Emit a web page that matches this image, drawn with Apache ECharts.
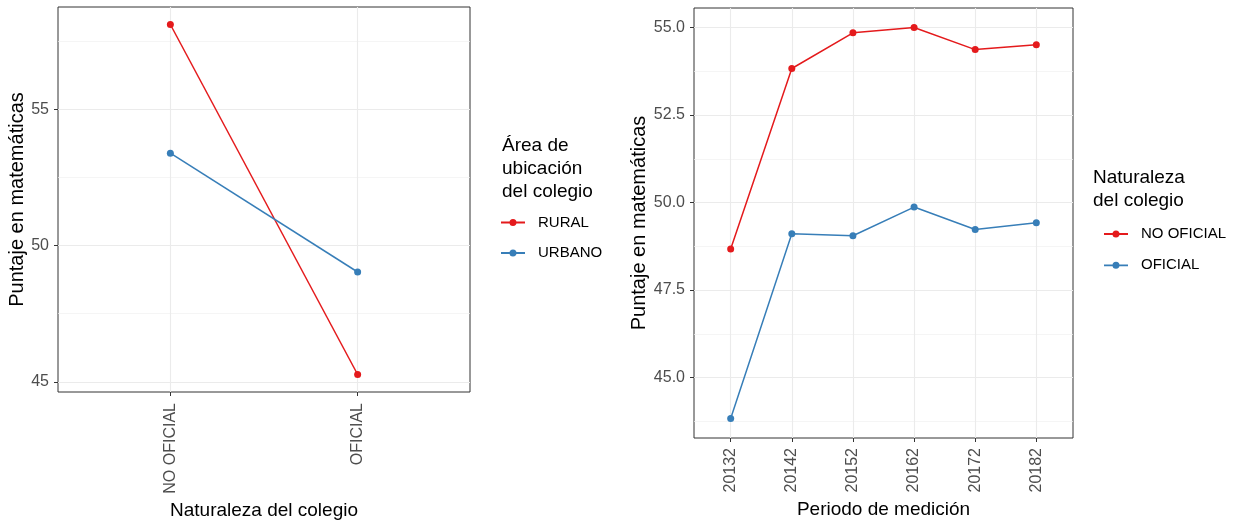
<!DOCTYPE html>
<html>
<head>
<meta charset="utf-8">
<script src="https://cdn.jsdelivr.net/npm/echarts@6/dist/echarts.min.js"></script>
<style>
html,body{margin:0;padding:0;background:#fff;}
#c{width:1242px;height:520px;}
</style>
</head>
<body>
<div id="c"></div>
<script>
// ---- data ----
const naturaleza = ['NO OFICIAL', 'OFICIAL'];
const rural = [58.11, 45.27];
const urbano = [53.39, 49.03];
const leftYTicks = [45, 50, 55];
const leftYMinor = [47.5, 52.5, 57.5];

const periodos = ['20132', '20142', '20152', '20162', '20172', '20182'];
const noOficial = [48.67, 53.83, 54.85, 55.00, 54.37, 54.51];
const oficial = [43.83, 49.11, 49.05, 49.87, 49.23, 49.42];
const rightYTicks = [45.0, 47.5, 50.0, 52.5, 55.0];
const rightYMinor = [43.75, 46.25, 48.75, 51.25, 53.75];

const RED = '#E41A1C', BLUE = '#377EB8';
const FONT = '"Liberation Sans", Arial, sans-serif';

function ext(arrs) {
  const all = [].concat(...arrs);
  const lo = Math.min(...all), hi = Math.max(...all);
  const pad = (hi - lo) * 0.05;
  return [lo - pad, hi + pad];
}
const leftExt = ext([rural, urbano]);
const rightExt = ext([noOficial, oficial]);

const idx = a => a.map((_, i) => i + 1);
const pts = a => a.map((v, i) => [i + 1, v]);

const gridLine = { show: true, lineStyle: { color: '#EBEBEB', width: 1.1 } };
const minorLine = { show: true, lineStyle: { color: '#F0F0F0', width: 0.7 } };
const tick = { show: true, length: 4, lineStyle: { color: '#333333', width: 1 } };
const tickLabel = { color: '#4D4D4D', fontSize: 16, fontFamily: FONT };

function xAxisCfg(gi, cats, min, max, nameGap, name, margin) {
  return {
    type: 'value', gridIndex: gi, min: min, max: max, position: 'bottom',
    name: name, nameLocation: 'middle', nameGap: nameGap,
    nameTextStyle: { color: '#000', fontSize: 19, fontFamily: FONT },
    axisLine: { show: false },
    axisTick: Object.assign({ customValues: idx(cats) }, tick),
    axisLabel: Object.assign({ customValues: idx(cats), rotate: 90, margin: margin,
      formatter: v => cats[Math.round(v) - 1] || '' }, tickLabel),
    splitLine: gridLine
  };
}
function yAxisCfg(gi, e, ticks, fmt, nameGap) {
  return {
    type: 'value', gridIndex: gi, min: e[0], max: e[1], position: 'left',
    name: 'Puntaje en matemáticas', nameLocation: 'middle', nameGap: nameGap,
    nameTextStyle: { color: '#000', fontSize: 20, fontFamily: FONT },
    axisLine: { show: false },
    axisTick: Object.assign({ customValues: ticks }, tick),
    axisLabel: Object.assign({ customValues: ticks, margin: 9, formatter: fmt }, tickLabel),
    splitLine: gridLine
  };
}
function minorAxis(gi, e, vals) {
  return {
    type: 'value', gridIndex: gi, min: e[0], max: e[1], position: 'left',
    axisLine: { show: false }, axisLabel: { show: false },
    axisTick: { show: false, customValues: vals },
    splitLine: minorLine
  };
}
function lineSeries(name, data, color, xi, yi) {
  return {
    type: 'line', name: name, data: data, xAxisIndex: xi, yAxisIndex: yi,
    symbol: 'circle', symbolSize: 7, showSymbol: true,
    lineStyle: { color: color, width: 1.5 }, itemStyle: { color: color },
    emphasis: { disabled: true }, animation: false, z: 5
  };
}

const KEY = 'path://M0,2.6 L24,2.6 L24,4.4 L0,4.4 Z M12,0 A3.5,3.5 0 1 1 11.99,0 Z';

const chart = echarts.init(document.getElementById('c'), null, { renderer: 'canvas' });
chart.setOption({
  backgroundColor: '#fff',
  animation: false,
  textStyle: { fontFamily: FONT },
  grid: [
    { left: 58, top: 7, width: 412, height: 385, show: true, borderColor: '#333333', borderWidth: 1, backgroundColor: '#fff', outerBoundsMode: 'none' },
    { left: 694, top: 8, width: 379, height: 430, show: true, borderColor: '#333333', borderWidth: 1, backgroundColor: '#fff', outerBoundsMode: 'none' }
  ],
  xAxis: [
    xAxisCfg(0, naturaleza, 0.4, naturaleza.length + 0.6, 106, 'Naturaleza del colegio', 11),
    xAxisCfg(1, periodos, 0.4, periodos.length + 0.6, 62, 'Periodo de medición', 10)
  ],
  yAxis: [
    minorAxis(0, leftExt, leftYMinor),
    yAxisCfg(0, leftExt, leftYTicks, v => String(Math.round(v)), 31),
    minorAxis(1, rightExt, rightYMinor),
    yAxisCfg(1, rightExt, rightYTicks, v => v.toFixed(1), 45)
  ],
  title: [
    { text: 'Área de\nubicación\ndel colegio', left: 497, top: 129, padding: 5,
      textStyle: { fontSize: 19, fontWeight: 'normal', color: '#000', fontFamily: FONT, lineHeight: 23 } },
    { text: 'Naturaleza\ndel colegio', left: 1088, top: 161, padding: 5,
      textStyle: { fontSize: 19, fontWeight: 'normal', color: '#000', fontFamily: FONT, lineHeight: 23 } }
  ],
  legend: [
    { data: [{ name: 'RURAL', icon: KEY }, { name: 'URBANO', icon: KEY }],
      orient: 'vertical', left: 496, top: 210, padding: 5,
      itemWidth: 24, itemHeight: 7, itemGap: 15.5,
      textStyle: { fontSize: 15, color: '#000', fontFamily: FONT, padding: [0, 0, 0, 8] } },
    { data: [{ name: 'NO OFICIAL', icon: KEY }, { name: 'OFICIAL', icon: KEY }],
      orient: 'vertical', left: 1099, top: 221.5, padding: 5,
      itemWidth: 24, itemHeight: 7, itemGap: 16.3,
      textStyle: { fontSize: 15, color: '#000', fontFamily: FONT, padding: [0, 0, 0, 8] } }
  ],
  series: [
    lineSeries('RURAL', pts(rural), RED, 0, 1),
    lineSeries('URBANO', pts(urbano), BLUE, 0, 1),
    lineSeries('NO OFICIAL', pts(noOficial), RED, 1, 3),
    lineSeries('OFICIAL', pts(oficial), BLUE, 1, 3)
  ]
});
</script>
</body>
</html>
